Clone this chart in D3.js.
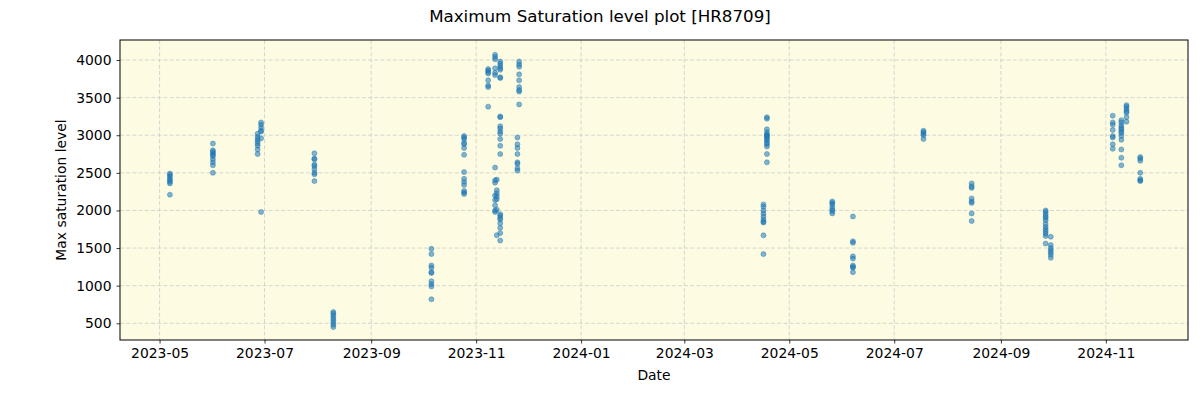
<!DOCTYPE html>
<html>
<head>
<meta charset="utf-8">
<script src="https://cdn.jsdelivr.net/npm/d3@7"></script>
<style>
  body { margin: 0; background: #fff; }
  text { font-family: "DejaVu Sans", sans-serif; }
</style>
</head>
<body>
<div id="chart"></div>
<script>
// observation nights and the saturation levels measured on each
var sessionDates = [
  "2023-05-07", "2023-06-01", "2023-06-27", "2023-06-29", "2023-07-30", "2023-08-10",
  "2023-10-06", "2023-10-25", "2023-11-08", "2023-11-12", "2023-11-13", "2023-11-15",
  "2023-11-15", "2023-11-25", "2023-11-26",
  "2024-04-16", "2024-04-18", "2024-05-26", "2024-06-07", "2024-07-18", "2024-08-15",
  "2024-09-27", "2024-09-30", "2024-11-05", "2024-11-10", "2024-11-13", "2024-11-21"
];

var sessionValues = [
  [2490, 2470, 2450, 2420, 2400, 2380, 2360, 2210],
  [2890, 2800, 2780, 2760, 2740, 2720, 2680, 2640, 2600, 2500],
  [3020, 2980, 2950, 2920, 2890, 2860, 2810, 2750],
  [3170, 3140, 3100, 3060, 3050, 2960, 1980],
  [2760, 2690, 2680, 2610, 2590, 2550, 2500, 2480, 2390],
  [650, 630, 600, 570, 540, 510, 480, 450],
  [1490, 1420, 1270, 1240, 1180, 1170, 1060, 1020, 990, 820],
  [2990, 2970, 2950, 2900, 2880, 2830, 2740, 2510, 2420, 2380, 2340, 2260, 2240, 2220],
  [3880, 3860, 3840, 3820, 3730, 3660, 3640, 3380],
  [4070, 4040, 4010, 3890, 3830, 3800, 2570, 2400, 2370, 2200, 2140, 2070, 2000, 1980],
  [2410, 2270, 2230, 2190, 2150, 2010, 1670],
  [3980, 3950, 3920, 3890, 3870, 3770, 3760, 3250, 3240, 3120, 3090, 3050, 3020, 2950, 2860, 2750],
  [1950, 1930, 1900, 1880, 1830, 1770, 1700, 1600],
  [2970, 2880, 2830, 2750, 2640, 2620, 2560, 2530],
  [3980, 3940, 3910, 3810, 3730, 3640, 3600, 3580, 3410],
  [2080, 2050, 2000, 1960, 1920, 1880, 1850, 1840, 1670, 1420],
  [3240, 3220, 3080, 3040, 3010, 3000, 2990, 2970, 2950, 2930, 2900, 2880, 2850, 2750, 2640],
  [2120, 2100, 2080, 2040, 2010, 1990, 1960],
  [1920, 1590, 1570, 1390, 1360, 1270, 1250, 1240, 1180],
  [3060, 3040, 3020, 3000, 2950],
  [2360, 2320, 2300, 2160, 2120, 2100, 1960, 1860],
  [2000, 1980, 1950, 1920, 1900, 1870, 1820, 1780, 1750, 1720, 1690, 1660, 1560],
  [1650, 1540, 1500, 1470, 1440, 1410, 1370],
  [3260, 3170, 3140, 3070, 2990, 2970, 2880, 2820],
  [3200, 3170, 3130, 3100, 3080, 3050, 3030, 2990, 2940, 2810, 2700, 2600],
  [3400, 3380, 3350, 3320, 3300, 3240, 3180],
  [2710, 2690, 2660, 2500, 2420, 2400, 2390]
];

var yTicks = [500, 1000, 1500, 2000, 2500, 3000, 3500, 4000];
var xTickDates = ["2023-05-01", "2023-07-01", "2023-09-01", "2023-11-01", "2024-01-01",
  "2024-03-01", "2024-05-01", "2024-07-01", "2024-09-01", "2024-11-01"];

var width = 1200, height = 400;
var margin = {top: 40, right: 12, bottom: 60, left: 120};
var parse = d3.timeParse("%Y-%m-%d");

// flatten into one point per measurement
var points = [];
sessionDates.forEach(function (d, i) {
  sessionValues[i].forEach(function (v) {
    points.push({date: parse(d), value: v});
  });
});

var svg = d3.select("#chart").append("svg")
  .attr("width", width)
  .attr("height", height);

var x = d3.scaleTime()
  .domain([parse("2023-04-08"), new Date(2024, 11, 18, 18)])
  .range([margin.left, width - margin.right]);

var y = d3.scaleLinear()
  .domain([278, 4266])
  .range([height - margin.bottom, margin.top]);

// plot background
svg.append("rect")
  .attr("x", margin.left)
  .attr("y", margin.top)
  .attr("width", width - margin.left - margin.right)
  .attr("height", height - margin.top - margin.bottom)
  .attr("fill", "#fdfce2");

// grid
var grid = svg.append("g").attr("stroke", "#cccccc").attr("stroke-width", 0.8)
  .attr("stroke-dasharray", "4,2.2");
grid.selectAll(".gx").data(xTickDates).enter().append("line")
  .attr("x1", function (d) { return x(parse(d)); })
  .attr("x2", function (d) { return x(parse(d)); })
  .attr("y1", margin.top).attr("y2", height - margin.bottom);
grid.selectAll(".gy").data(yTicks).enter().append("line")
  .attr("y1", function (d) { return y(d); })
  .attr("y2", function (d) { return y(d); })
  .attr("x1", margin.left).attr("x2", width - margin.right);

// points
svg.append("g").selectAll("circle")
  .data(points).enter().append("circle")
  .attr("cx", function (d) { return x(d.date); })
  .attr("cy", function (d) { return y(d.value); })
  .attr("r", 2.5)
  .attr("fill", "#1f77b4")
  .attr("fill-opacity", 0.55)
  .attr("stroke", "#1f77b4")
  .attr("stroke-opacity", 0.55)
  .attr("stroke-width", 0.8);

// axes
var xAxis = d3.axisBottom(x)
  .tickValues(xTickDates.map(parse))
  .tickFormat(d3.timeFormat("%Y-%m"))
  .tickSize(3.5).tickPadding(5);
var yAxis = d3.axisLeft(y)
  .tickValues(yTicks)
  .tickFormat(d3.format("d"))
  .tickSize(3.5).tickPadding(5);

var gx = svg.append("g")
  .attr("transform", "translate(0," + (height - margin.bottom) + ")")
  .call(xAxis);
var gy = svg.append("g")
  .attr("transform", "translate(" + margin.left + ",0)")
  .call(yAxis);

[gx, gy].forEach(function (g) {
  g.select(".domain").remove();
  g.selectAll(".tick line").attr("stroke", "#000").attr("stroke-width", 0.8);
  g.selectAll(".tick text").attr("font-size", 13.9).attr("fill", "#000")
    .attr("font-family", "DejaVu Sans, sans-serif");
});

// frame
svg.append("rect")
  .attr("x", margin.left)
  .attr("y", margin.top)
  .attr("width", width - margin.left - margin.right)
  .attr("height", height - margin.top - margin.bottom)
  .attr("fill", "none")
  .attr("stroke", "#000")
  .attr("stroke-width", 1);

// labels
svg.append("text")
  .attr("x", width / 2).attr("y", 22)
  .attr("text-anchor", "middle")
  .attr("font-size", 16.7)
  .text("Maximum Saturation level plot [HR8709]");

svg.append("text")
  .attr("x", (margin.left + width - margin.right) / 2).attr("y", 380)
  .attr("text-anchor", "middle")
  .attr("font-size", 13.9)
  .text("Date");

svg.append("text")
  .attr("transform", "translate(66," + ((margin.top + height - margin.bottom) / 2) + ") rotate(-90)")
  .attr("text-anchor", "middle")
  .attr("font-size", 13.9)
  .text("Max saturation level");
</script>
</body>
</html>
